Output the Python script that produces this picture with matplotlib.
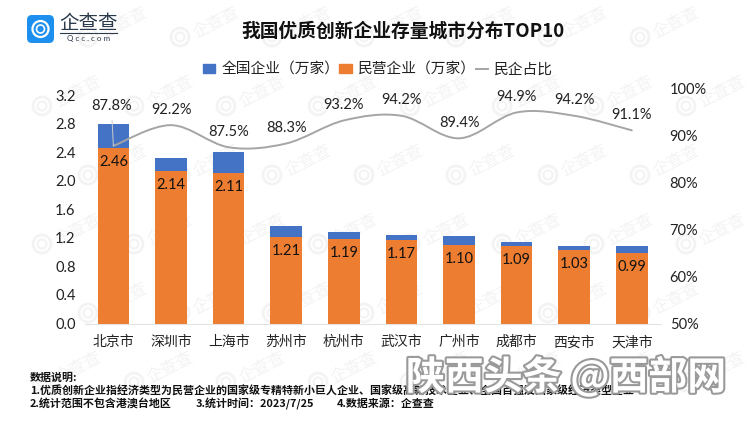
import numpy as np
import matplotlib
matplotlib.use('Agg')
import matplotlib.pyplot as plt
import matplotlib.patheffects as pe
from matplotlib.patches import FancyBboxPatch, PathPatch, Circle, Patch
from matplotlib.lines import Line2D
from matplotlib.path import Path

plt.rcParams['font.family'] = ['Noto Sans CJK SC', 'DejaVu Sans']

# data
cities = ['北京市', '深圳市', '上海市', '苏州市', '杭州市', '武汉市', '广州市', '成都市', '西安市', '天津市']
private = [2.46, 2.14, 2.11, 1.21, 1.19, 1.17, 1.10, 1.09, 1.03, 0.99]
total = [2.80, 2.32, 2.41, 1.37, 1.28, 1.24, 1.23, 1.15, 1.09, 1.09]
share = [87.8, 92.2, 87.5, 88.3, 93.2, 94.2, 89.4, 94.9, 94.2, 91.1]
left_ticks = [0.0, 0.4, 0.8, 1.2, 1.6, 2.0, 2.4, 2.8, 3.2]
right_ticks = [50, 60, 70, 80, 90, 100]

W, H = 750, 422
BLUE = '#4472C4'
ORANGE = '#ED7D31'
GREY = '#A5A5A5'
NUM_FONT = ['Lato', 'DejaVu Sans']

fig = plt.figure(figsize=(7.5, 4.22), dpi=100)

# background watermark, only the copies that fit inside the picture
bg = fig.add_axes([0, 0, 1, 1], zorder=0)
bg.set_xlim(0, W)
bg.set_ylim(H, 0)
bg.axis('off')
for row in range(6):
    for col in range(-1, 9):
        wx = 88 + col * 92 - (row % 2) * 46
        wy = 37 + row * 69
        if wx < 12 or wx + 62 > W or wy - 35 < 0 or wy + 12 > H:
            continue
        bg.add_patch(Circle((wx, wy), 9, fill=False, ec='#F3F3F3', lw=2))
        bg.add_patch(Circle((wx, wy), 4.5, fill=False, ec='#F3F3F3', lw=1.5))
        bg.text(wx + 36, wy - 14, '企查查', fontsize=12, color='#F3F3F3', rotation=27,
                ha='center', va='center', rotation_mode='anchor')

ax = fig.add_axes([84.6 / W, 1 - 323.5 / H, 576 / W, 235 / H], zorder=2)
ax.patch.set_alpha(0)
x = np.arange(len(cities))
extra = np.array(total) - np.array(private)
ax.bar(x, private, width=0.55, color=ORANGE)
ax.bar(x, extra, width=0.55, bottom=private, color=BLUE)
ax.set_xlim(-0.5, 9.5)
ax.set_ylim(0, 3.296)
ax.set_xticks(x, cities, fontsize=10, color='#222222')
ax.set_yticks(left_ticks, [f'{v:.1f}' for v in left_ticks], fontsize=10.5, color='#222222', family=NUM_FONT)
ax.tick_params(length=0)
ax.tick_params(axis='x', pad=8.5)
ax.tick_params(axis='y', pad=6.5)
for s in ['top', 'left', 'right']:
    ax.spines[s].set_visible(False)
ax.spines['bottom'].set_color('#E3E3E3')

for i, v in enumerate(private):
    ax.annotate(f'{v:.2f}', (x[i], v), xytext=(0, -10), textcoords='offset points',
                ha='center', va='center', fontsize=10.5, color='#111111', family=NUM_FONT)

ax2 = ax.twinx()
ax2.patch.set_alpha(0)
ax2.set_ylim(50, 100)
ax2.set_yticks(right_ticks, [f'{v}%' for v in right_ticks], fontsize=10.5, color='#222222', family=NUM_FONT)
ax2.tick_params(length=0, pad=6.5)
for s in ax2.spines.values():
    s.set_visible(False)

# smoothed line like the spreadsheet one: bezier segments through the values
pts = np.column_stack([x, share])
verts = [pts[0]]
codes = [Path.MOVETO]
for i in range(len(pts) - 1):
    p0 = pts[max(i - 1, 0)]
    p1, p2 = pts[i], pts[i + 1]
    p3 = pts[min(i + 2, len(pts) - 1)]
    verts += [p1 + (p2 - p0) / 6, p2 - (p3 - p1) / 6, p2]
    codes += [Path.CURVE4] * 3
ax2.add_patch(PathPatch(Path(verts, codes), fill=False, ec=GREY, lw=1.4, capstyle='round'))

for i, v in enumerate(share):
    if i == 0:
        ax2.annotate(f'{v}%', (x[i], v), xytext=(-1.5, 28.5), textcoords='offset points',
                     ha='center', va='center', fontsize=10.5, color='#222222', family=NUM_FONT,
                     arrowprops=dict(arrowstyle='-', color='#CCCCCC', lw=0.7, shrinkA=3, shrinkB=0))
    else:
        ax2.annotate(f'{v}%', (x[i], v), xytext=(0, 11), textcoords='offset points',
                     ha='center', va='center', fontsize=10.5, color='#222222', family=NUM_FONT)

handles = [Patch(color=BLUE), Patch(color=ORANGE), Line2D([0], [0], color=GREY, lw=1.4)]
fig.legend(handles, ['全国企业（万家）', '民营企业（万家）', '民企占比'], ncols=3,
           loc='center', bbox_to_anchor=(378 / W, 1 - 70 / H), frameon=False, fontsize=10.6,
           handlelength=0.85, handleheight=0.55, handletextpad=0.4, columnspacing=0.0,
           labelcolor='#222222')

# top and bottom text layer
fg = fig.add_axes([0, 0, 1, 1], zorder=3)
fg.set_xlim(0, W)
fg.set_ylim(H, 0)
fg.axis('off')
fg.patch.set_alpha(0)

fg.text(403, 31, '我国优质创新企业存量城市分布TOP10', fontsize=13.5, fontweight='bold',
        ha='center', va='center', color='#111111')

# logo
fg.add_patch(FancyBboxPatch((30, 18), 21, 22, boxstyle='round,pad=3,rounding_size=5', fc='#1C8FEF', ec='none'))
fg.add_patch(Circle((40.5, 29), 8, fill=False, ec='white', lw=1.6))
fg.add_patch(Circle((40.5, 29), 4, fill=False, ec='white', lw=1.2))
fg.text(88.5, 24, '企查查', fontsize=14, ha='center', va='center', color='#2A3A4A')
fg.plot([60, 117], [33, 33], color='#2A3A4A', lw=0.8)
fg.text(88.5, 38.5, 'Q c c . c o m', fontsize=5.8, ha='center', va='center', color='#2A3A4A',
        family=NUM_FONT)
fg.set_xlim(0, W)
fg.set_ylim(H, 0)

# notes
notes = [
    (30, 378, '数据说明:'),
    (30, 391, '1.优质创新企业指经济类型为民营企业的国家级专精特新小巨人企业、国家级高新技术企业、全国百强及国家级经济类型企业'),
    (30, 404, '2.统计范围不包含港澳台地区'),
    (196, 404, '3.统计时间：2023/7/25'),
    (337, 404, '4.数据来源：企查查'),
]
for nx, ny, s in notes:
    fg.text(nx, ny, s, fontsize=7.9, fontweight='bold', ha='left', va='center', color='#111111')

fg.text(566, 377, '陕西头条 @西部网', fontsize=28, fontweight='bold', ha='center', va='center', color='white',
        path_effects=[pe.withStroke(linewidth=3, foreground='#9A9A9A')])

fig.savefig('out.png', dpi=100, facecolor='white')
